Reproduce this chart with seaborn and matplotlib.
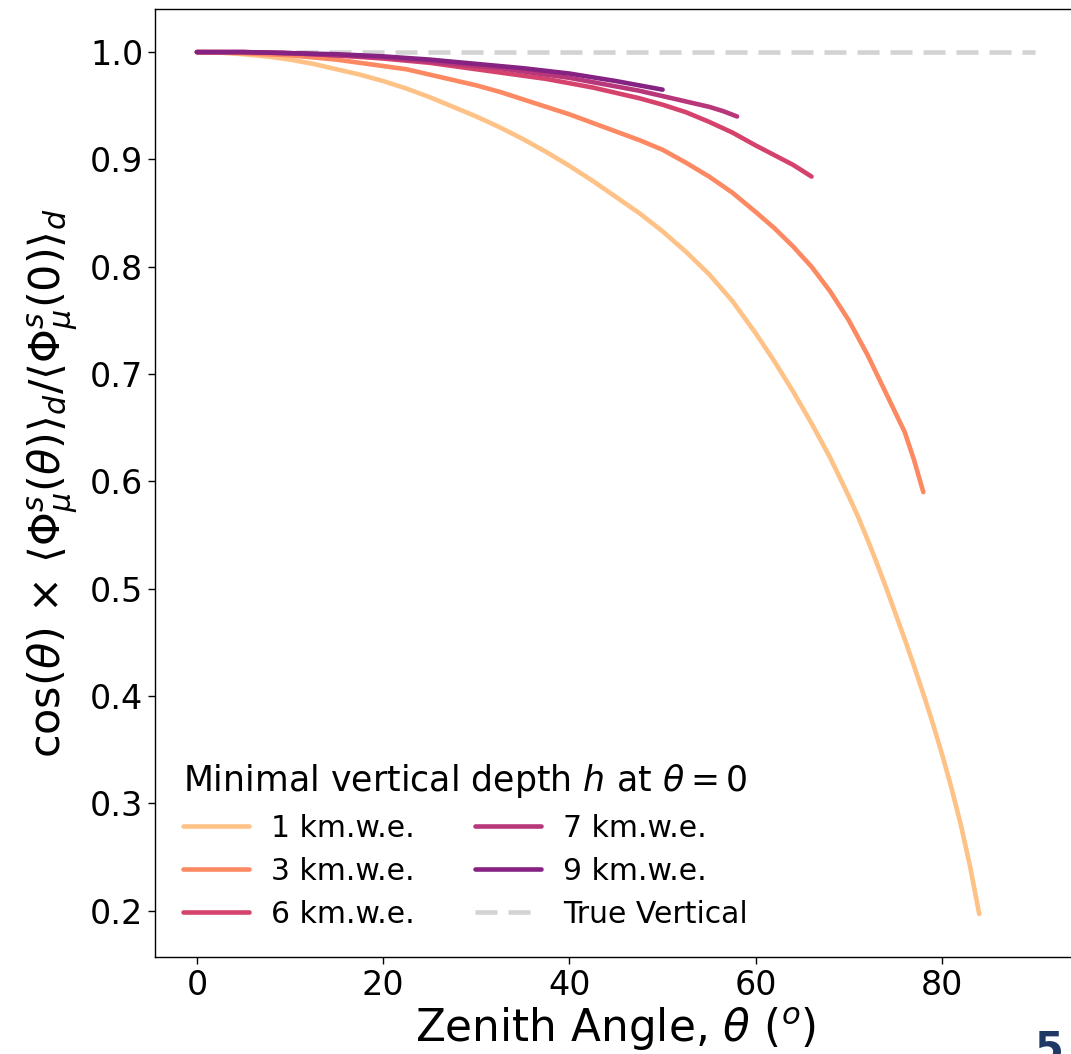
import numpy as np
import pandas as pd
import matplotlib
matplotlib.use("Agg")
import matplotlib.pyplot as plt
import seaborn as sns

# ---- data ----
theta_1 = [0, 2.5, 5, 7.5, 10, 12.5, 15, 17.5, 20, 22.5, 25, 27.5, 30, 32.5, 35, 37.5, 40, 42.5, 45,
           47.5, 50, 52.5, 55, 57.5, 60, 62, 64, 66, 68, 70, 71, 72, 73, 74, 75, 76, 77, 78, 79, 80,
           81, 82, 83, 84]
ratio_1 = [1.000, 0.9995, 0.998, 0.996, 0.993, 0.989, 0.984, 0.979, 0.973, 0.966, 0.958, 0.949, 0.940,
           0.930, 0.919, 0.907, 0.894, 0.880, 0.865, 0.850, 0.833, 0.814, 0.793, 0.768, 0.738, 0.712,
           0.684, 0.654, 0.622, 0.586, 0.567, 0.546, 0.524, 0.501, 0.477, 0.453, 0.428, 0.402, 0.375,
           0.346, 0.315, 0.281, 0.242, 0.197]

theta_3 = [0, 2.5, 5, 7.5, 10, 12.5, 15, 17.5, 20, 22.5, 25, 27.5, 30, 32.5, 35, 37.5, 40, 42.5, 45,
           47.5, 50, 52.5, 55, 57.5, 60, 62, 64, 66, 68, 70, 72, 74, 76, 77, 78]
ratio_3 = [1.000, 0.9998, 0.999, 0.998, 0.997, 0.995, 0.993, 0.990, 0.987, 0.984, 0.979, 0.974, 0.969,
           0.963, 0.956, 0.949, 0.942, 0.934, 0.926, 0.918, 0.909, 0.897, 0.884, 0.869, 0.851, 0.836,
           0.819, 0.800, 0.777, 0.750, 0.718, 0.682, 0.646, 0.620, 0.590]

theta_6 = [0, 5, 10, 15, 20, 25, 30, 32.5, 35, 37.5, 40, 42.5, 45, 47.5, 50, 52.5, 55, 57.5, 60, 62, 64, 66]
ratio_6 = [1.000, 1.000, 0.999, 0.997, 0.994, 0.990, 0.984, 0.981, 0.978, 0.975, 0.971, 0.967, 0.962,
           0.957, 0.951, 0.944, 0.935, 0.925, 0.913, 0.904, 0.895, 0.884]

theta_7 = [0, 5, 10, 15, 20, 25, 30, 32.5, 35, 37.5, 40, 42.5, 45, 47.5, 50, 52.5, 55, 56.5, 58]
ratio_7 = [1.000, 1.000, 0.999, 0.997, 0.995, 0.991, 0.987, 0.985, 0.982, 0.979, 0.976, 0.972, 0.968,
           0.964, 0.959, 0.954, 0.949, 0.945, 0.940]

theta_9 = [0, 2.5, 5, 7.5, 10, 12.5, 15, 17.5, 20, 22.5, 25, 27.5, 30, 32.5, 35, 37.5, 40, 42.5, 45, 47.5, 50]
ratio_9 = [1.000, 1.000, 1.000, 0.9995, 0.999, 0.9985, 0.998, 0.997, 0.996, 0.9945, 0.993, 0.991, 0.989,
           0.987, 0.985, 0.9825, 0.980, 0.9765, 0.973, 0.969, 0.965]

theta_vert = [0, 90]
ratio_vert = [1.0, 1.0]

labels = ["1 km.w.e.", "3 km.w.e.", "6 km.w.e.", "7 km.w.e.", "9 km.w.e."]
colors = ["#FEC287", "#FC8961", "#D5436D", "#B8367A", "#862281"]

frames = []
for lab, th, r in zip(labels,
                      [theta_1, theta_3, theta_6, theta_7, theta_9],
                      [ratio_1, ratio_3, ratio_6, ratio_7, ratio_9]):
    frames.append(pd.DataFrame({"theta": th, "ratio": r, "depth": lab}))
df = pd.concat(frames, ignore_index=True)
df_vert = pd.DataFrame({"theta": theta_vert, "ratio": ratio_vert})

sns.set_style("ticks")
plt.rcParams["font.family"] = ["DejaVu Sans"]
plt.rcParams["axes.linewidth"] = 1.0
plt.rcParams["text.color"] = "black"
plt.rcParams["axes.labelcolor"] = "black"
plt.rcParams["xtick.color"] = "black"
plt.rcParams["ytick.color"] = "black"

fig = plt.figure(figsize=(10.71, 10.54), dpi=100)
ax = fig.add_axes([155 / 1071, 97 / 1054, (1077 - 155) / 1071, (957 - 9) / 1054])

sns.lineplot(data=df, x="theta", y="ratio", hue="depth", hue_order=labels,
             palette=dict(zip(labels, colors)), estimator=None, sort=False,
             linewidth=3.3, ax=ax, legend=True)
sns.lineplot(data=df_vert, x="theta", y="ratio", color="#D3D3D3", linewidth=3.3,
             dashes=False, ax=ax, label="True Vertical")
vline = ax.lines[-1]
vline.set_dashes((4.8, 2.4))
vline.set_zorder(1.5)

ax.set_xticks([0, 20, 40, 60, 80])
ax.set_yticks([0.2, 0.3, 0.4, 0.5, 0.6, 0.7, 0.8, 0.9, 1.0])
ax.tick_params(axis="both", labelsize=24, length=5, width=1, direction="out", colors="black")
ax.set_xlabel(r"Zenith Angle, $\theta$ ($^o$)", fontsize=31.5, labelpad=3, color="black")
ax.set_ylabel(r"cos($\theta$) $\times$ $\langle\Phi^s_\mu(\theta)\rangle_d/\langle\Phi^s_\mu(0)\rangle_d$",
              fontsize=31, labelpad=7, color="black")
for s in ax.spines.values():
    s.set_color("black")

handles, labs = ax.get_legend_handles_labels()
leg = ax.legend(handles, labs, ncol=2, loc="lower left", frameon=False, fontsize=21.5,
                title=r"Minimal vertical depth $h$ at $\theta = 0$", title_fontsize=25,
                handlelength=2.2, handletextpad=0.75, columnspacing=2.0,
                borderaxespad=0.55, labelspacing=0.47)
leg._legend_box.align = "left"
leg.get_title().set_color("black")
for t in leg.get_texts():
    t.set_color("black")
for h in leg.legend_handles:
    h.set_linewidth(3.3)

fig.text(1035 / 1071, 1 - 1028 / 1054, "5", fontsize=30, fontweight="bold",
         color="#1F3864", ha="left", va="top")

fig.savefig("out.png", dpi=100)
